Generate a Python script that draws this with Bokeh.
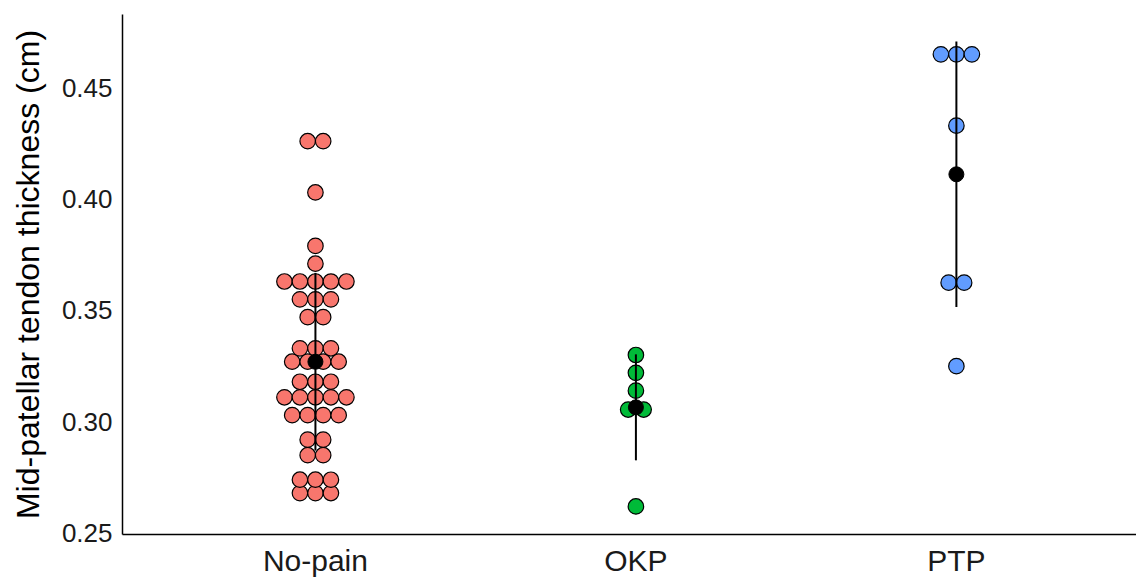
import numpy as np
from bokeh.plotting import figure
from bokeh.models import FixedTicker, Range1d
from bokeh.embed import file_html
from bokeh.resources import INLINE

# ---- data ----
categories = ["No-pain", "OKP", "PTP"]
colors = ["#F8766D", "#00BA38", "#619CFF"]

no_pain = [0.426, 0.426, 0.403, 0.379, 0.371,
           0.363, 0.363, 0.363, 0.363, 0.363,
           0.355, 0.355, 0.355, 0.347, 0.347,
           0.333, 0.333, 0.333, 0.327, 0.327, 0.327, 0.327,
           0.318, 0.318, 0.318,
           0.311, 0.311, 0.311, 0.311, 0.311,
           0.303, 0.303, 0.303, 0.303,
           0.292, 0.292, 0.285, 0.285,
           0.274, 0.274, 0.274, 0.268, 0.268, 0.268]
okp = [0.330, 0.322, 0.314, 0.3055, 0.3055, 0.262]
ptp = [0.465, 0.465, 0.465, 0.433, 0.3625, 0.3625, 0.325]
groups = [no_pain, okp, ptp]

y_ticks = [0.25, 0.30, 0.35, 0.40, 0.45]

# ---- figure ----
p = figure(width=1136, height=579, output_backend="svg", toolbar_location=None,
           x_range=Range1d(0.398, 3.562), y_range=Range1d(0.2494, 0.4829),
           min_border_left=122, min_border_top=14, min_border_bottom=10,
           min_border_right=0)
p.outline_line_color = None
p.xgrid.visible = False
p.ygrid.visible = False
p.background_fill_color = "white"
p.border_fill_color = "white"

dot_px = 15.5
dx = dot_px / 320.5  # dot diameter in x data units

for i, (vals, col) in enumerate(zip(groups, colors)):
    xc = i + 1
    xs, ys = [], []
    for u in sorted(set(vals)):
        n = vals.count(u)
        for k in range(n):
            xs.append(xc + (k - (n - 1) / 2) * dx)
            ys.append(u)
    p.scatter(xs, ys, size=dot_px, fill_color=col, line_color="black", line_width=1.2)

for i, vals in enumerate(groups):
    xc = i + 1
    m = float(np.mean(vals))
    sd = float(np.std(vals, ddof=1))
    p.segment(x0=[xc], y0=[m - sd], x1=[xc], y1=[m + sd], line_color="black", line_width=2)
    p.scatter([xc], [m], size=15, fill_color="black", line_color="black", line_width=1)

# axes
p.xaxis.ticker = FixedTicker(ticks=[1, 2, 3])
p.xaxis.major_label_overrides = {1: categories[0], 2: categories[1], 3: categories[2]}
p.yaxis.ticker = FixedTicker(ticks=y_ticks)
p.yaxis.major_label_overrides = {t: f"{t:.2f}" for t in y_ticks}
for ax in (p.xaxis[0], p.yaxis[0]):
    ax.axis_line_color = "black"
    ax.axis_line_width = 1.5
    ax.major_tick_line_color = None
    ax.minor_tick_line_color = None
    ax.major_tick_out = 0
    ax.major_tick_in = 0
    ax.minor_tick_out = 0
    ax.minor_tick_in = 0
    ax.major_label_text_font = "Liberation Sans"
    ax.major_label_text_color = "#1a1a1a"
p.yaxis.major_label_text_font_size = "26px"
p.xaxis.major_label_text_font_size = "30px"
p.xaxis.major_label_standoff = 9
p.yaxis.major_label_standoff = 10
p.yaxis.axis_label = "Mid-patellar tendon thickness (cm)"
p.yaxis.axis_label_text_font = "Liberation Sans"
p.yaxis.axis_label_text_font_style = "normal"
p.yaxis.axis_label_text_font_size = "32px"
p.yaxis.axis_label_text_color = "black"
p.yaxis.axis_label_standoff = 13

open("out.html", "w").write(file_html(p, INLINE))
